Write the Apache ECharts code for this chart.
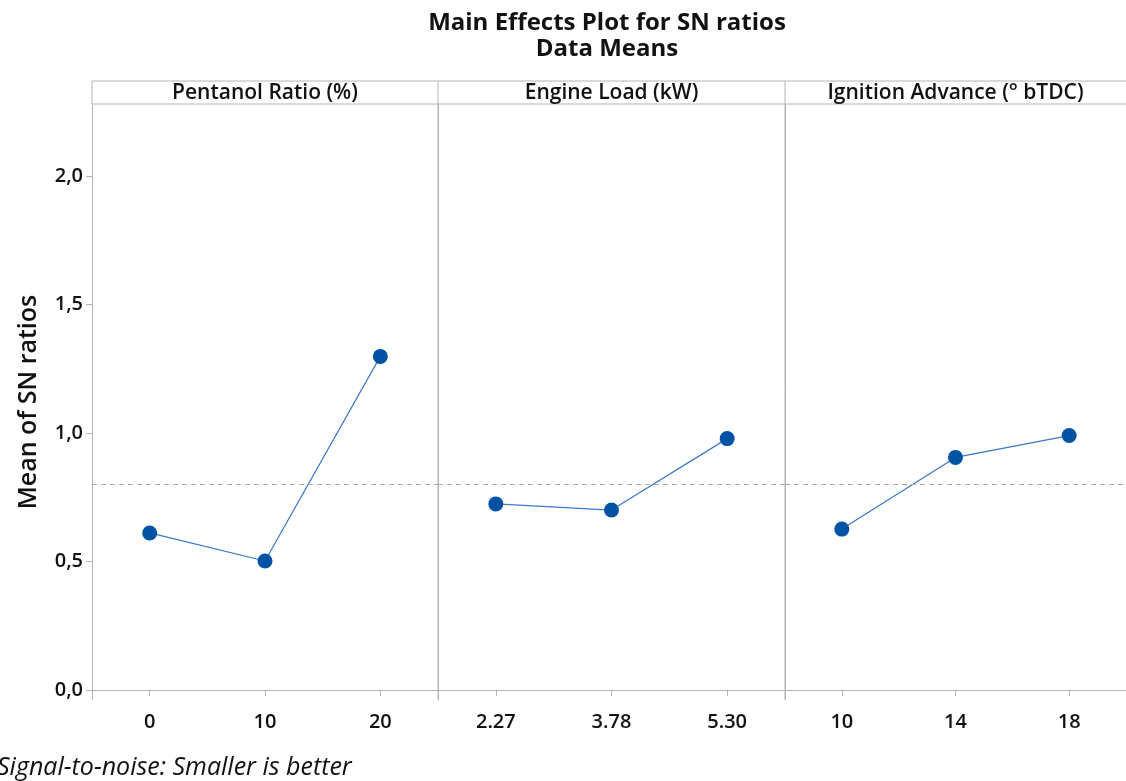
<!DOCTYPE html>
<html>
<head>
<meta charset="utf-8">
<script src="https://cdn.jsdelivr.net/npm/echarts@6/dist/echarts.min.js"></script>
<style>
html,body{margin:0;padding:0;background:#fff;}
#chart{width:1126px;height:781px;}
</style>
</head>
<body>
<div id="chart"></div>
<script>
const titleLines = ['Main Effects Plot for SN ratios', 'Data Means'];
const panelTitles = ['Pentanol Ratio (%)', 'Engine Load (kW)', 'Ignition Advance (° bTDC)'];
const pentanolLevels = ['0', '10', '20'];
const loadLevels = ['2.27', '3.78', '5.30'];
const ignitionLevels = ['10', '14', '18'];
const pentanolMeans = [0.611, 0.502, 1.298];
const loadMeans = [0.724, 0.700, 0.978];
const ignitionMeans = [0.626, 0.905, 0.990];
const overallMean = 0.802;
const yTicks = [0, 0.5, 1.0, 1.5, 2.0];
const yAxisName = 'Mean of SN ratios';
const footnote = 'Signal-to-noise: Smaller is better';

const FONT = 'Open Sans';
const TXT = '#111111';
const levels = [pentanolLevels, loadLevels, ignitionLevels];
const means = [pentanolMeans, loadMeans, ignitionMeans];
const panels = [
  {left: 92, width: 346},
  {left: 438, width: 347},
  {left: 785, width: 341}
];
const TOP = 104, HEIGHT = 596, HEAD_TOP = 81;
const gray = '#b4b4b4';

const chart = echarts.init(document.getElementById('chart'), null, {renderer: 'canvas'});

const grids = panels.map(p => ({left: p.left, width: p.width, top: TOP, height: HEIGHT, show: false, containLabel: false}));

const xAxes = levels.map((lv, i) => ({
  type: 'category', gridIndex: i, data: lv, boundaryGap: true,
  axisLine: {show: true, lineStyle: {color: gray, width: 1}},
  axisTick: {show: true, alignWithLabel: true, length: 6, lineStyle: {color: gray}},
  axisLabel: {color: TXT, fontFamily: FONT, fontSize: 20, fontWeight: 600, margin: 12}
}));

const yAxes = panels.map((p, i) => ({
  type: 'value', gridIndex: i, min: -0.039, max: 2.28,
  name: i === 0 ? yAxisName : '',
  nameLocation: 'middle', nameGap: 51,
  nameTextStyle: {color: TXT, fontFamily: FONT, fontSize: 25, fontWeight: 600},
  splitLine: {show: false},
  axisLine: {show: true, lineStyle: {color: gray, width: 1}},
  axisTick: {show: i === 0, length: 6, lineStyle: {color: gray}, customValues: yTicks},
  axisLabel: {show: i === 0, color: TXT, fontFamily: FONT, fontSize: 20, fontWeight: 600, margin: 9,
    customValues: yTicks,
    formatter: v => v.toFixed(1).replace('.', ',')}
}));

const series = means.map((m, i) => ({
  type: 'line', xAxisIndex: i, yAxisIndex: i, data: m,
  symbol: 'circle', symbolSize: 15,
  lineStyle: {color: '#3a78c4', width: 1.2},
  itemStyle: {color: '#0052a5'},
  silent: true,
  markLine: {
    silent: true, symbol: ['none', 'none'],
    label: {show: false},
    lineStyle: {color: '#a8a8a8', type: [5, 4], width: 1},
    data: [{yAxis: overallMean}]
  }
}));

const W = 1126;
const graphics = [
  {type: 'line', shape: {x1: 92, y1: HEAD_TOP, x2: W, y2: HEAD_TOP}, style: {stroke: gray, lineWidth: 1}},
  {type: 'line', shape: {x1: 92, y1: TOP, x2: W, y2: TOP}, style: {stroke: gray, lineWidth: 1}},
  {type: 'line', shape: {x1: 92, y1: HEAD_TOP, x2: 92, y2: TOP}, style: {stroke: gray, lineWidth: 1}},
  {type: 'line', shape: {x1: 438, y1: HEAD_TOP, x2: 438, y2: TOP + HEIGHT}, style: {stroke: gray, lineWidth: 1}},
  {type: 'line', shape: {x1: 785, y1: HEAD_TOP, x2: 785, y2: TOP + HEIGHT}, style: {stroke: gray, lineWidth: 1}}
];
panelTitles.forEach((t, i) => {
  const p = panels[i];
  const w = i === 2 ? 1126 - p.left : p.width;
  graphics.push({type: 'text', x: p.left + w / 2, y: (HEAD_TOP + TOP) / 2 + 1,
    style: {text: t, fill: TXT, fontFamily: FONT, fontSize: 21, fontWeight: 600, textAlign: 'center', textVerticalAlign: 'middle'}});
});
graphics.push({type: 'text', x: 607, y: 23,
  style: {text: titleLines[0], fill: TXT, fontFamily: FONT, fontSize: 24, fontWeight: 'bold', textAlign: 'center', textVerticalAlign: 'middle'}});
graphics.push({type: 'text', x: 607, y: 49,
  style: {text: titleLines[1], fill: TXT, fontFamily: FONT, fontSize: 24, fontWeight: 'bold', textAlign: 'center', textVerticalAlign: 'middle'}});
graphics.push({type: 'text', x: -3, y: 768,
  style: {text: footnote, fill: TXT, fontFamily: FONT, fontSize: 25, fontStyle: 'italic', textAlign: 'left', textVerticalAlign: 'middle'}});

chart.setOption({
  backgroundColor: '#ffffff',
  animation: false,
  grid: grids,
  xAxis: xAxes,
  yAxis: yAxes,
  series: series,
  graphic: graphics
});
</script>
</body>
</html>
